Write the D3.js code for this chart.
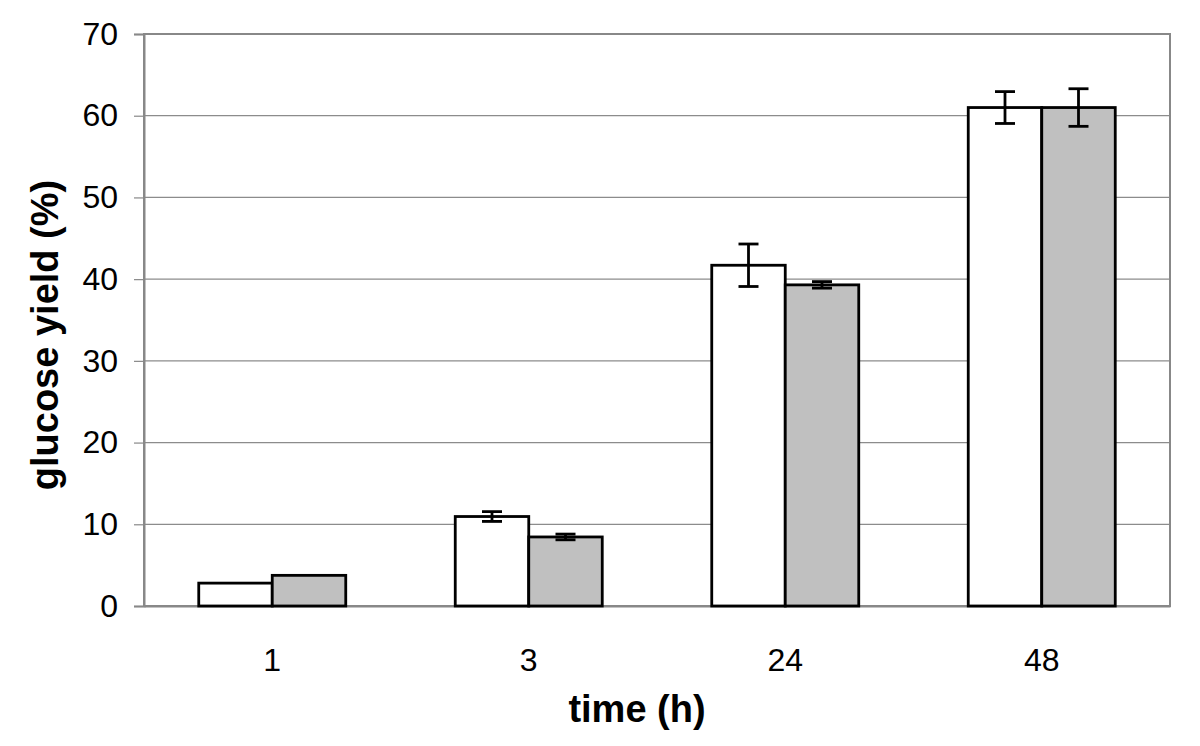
<!DOCTYPE html>
<html><head><meta charset="utf-8">
<script src="https://cdn.jsdelivr.net/npm/d3@7"></script>
<style>body{margin:0;background:#fff}svg{display:block}text{font-family:"Liberation Sans",Arial,sans-serif}</style>
</head><body>
<script>
const categories = ["1", "3", "24", "48"];
const seriesA = [2.8, 10.95, 41.7, 61.0];   // white
const seriesB = [3.75, 8.45, 39.3, 61.0];   // gray
const errA = [0, 0.6, 2.6, 1.95];
const errB = [0, 0.35, 0.4, 2.3];
const yTicks = [0, 10, 20, 30, 40, 50, 60, 70];

const W = 1200, H = 746;
const m = {left: 144, right: 30, top: 34, bottom: 140};
const svg = d3.select("body").append("svg").attr("width", W).attr("height", H);
const pw = W - m.left - m.right, ph = H - m.top - m.bottom;
const g = svg.append("g").attr("transform", `translate(${m.left},${m.top})`);

const x = d3.scaleBand().domain(categories).range([0, pw]).paddingInner(0).paddingOuter(0);
const y = d3.scaleLinear().domain([0, 70]).range([ph, 0]);
const bw = 73.5;

// gridlines
g.selectAll(".grid").data(yTicks.slice(1)).join("line")
  .attr("x1", 0).attr("x2", pw).attr("y1", d => y(d)).attr("y2", d => y(d))
  .attr("stroke", "#8c8c8c").attr("stroke-width", 1.2);

// frame
g.append("rect").attr("x", 0).attr("y", 0).attr("width", pw).attr("height", ph)
  .attr("fill", "none").attr("stroke", "#888").attr("stroke-width", 2);

// y axis
const ya = g.append("g").call(d3.axisLeft(y).tickValues(yTicks).tickSize(10).tickPadding(16));
ya.select(".domain").attr("stroke", "#888").attr("stroke-width", 2);
ya.selectAll(".tick line").attr("stroke", "#888").attr("stroke-width", 1.2);
ya.selectAll(".tick text").attr("font-size", 32).attr("fill", "#000")
  .attr("font-family", "Liberation Sans, Arial, sans-serif");

// x axis labels
const xa = g.append("g").attr("transform", `translate(0,${ph})`)
  .call(d3.axisBottom(x).tickSize(0).tickPadding(42));
xa.select(".domain").attr("stroke", "#888").attr("stroke-width", 2);
xa.selectAll(".tick text").attr("font-size", 32).attr("fill", "#000")
  .attr("font-family", "Liberation Sans, Arial, sans-serif");

const data = categories.map((c, i) => ({c, a: seriesA[i], b: seriesB[i], ea: errA[i], eb: errB[i]}));

const grp = g.selectAll(".grp").data(data).join("g")
  .attr("transform", d => `translate(${x(d.c) + x.bandwidth()/2},0)`);

grp.append("rect").attr("x", -bw).attr("width", bw)
  .attr("y", d => y(d.a)).attr("height", d => y(0) - y(d.a))
  .attr("fill", "#fff").attr("stroke", "#000").attr("stroke-width", 2.8);
grp.append("rect").attr("x", 0).attr("width", bw)
  .attr("y", d => y(d.b)).attr("height", d => y(0) - y(d.b))
  .attr("fill", "#c0c0c0").attr("stroke", "#000").attr("stroke-width", 2.8);

function errbar(sel, cx, val, err) {
  sel.filter(d => err(d) > 0).each(function(d) {
    const s = d3.select(this);
    const v = val(d), e = err(d);
    s.append("line").attr("x1", cx).attr("x2", cx).attr("y1", y(v + e)).attr("y2", y(v - e))
      .attr("stroke", "#000").attr("stroke-width", 2.8);
    [v + e, v - e].forEach(t => s.append("line").attr("x1", cx - 10).attr("x2", cx + 10)
      .attr("y1", y(t)).attr("y2", y(t)).attr("stroke", "#000").attr("stroke-width", 2.8));
  });
}
errbar(grp, -bw/2, d => d.a, d => d.ea);
errbar(grp, bw/2, d => d.b, d => d.eb);

// axis titles
svg.append("text").attr("x", 637).attr("y", 722).attr("text-anchor", "middle")
  .attr("font-size", 38).attr("font-weight", "bold").text("time (h)");
svg.append("text").attr("transform", `translate(58,${335}) rotate(-90)`)
  .attr("text-anchor", "middle").attr("font-size", 38).attr("font-weight", "bold")
  .text("glucose yield (%)");
</script>
</body></html>
